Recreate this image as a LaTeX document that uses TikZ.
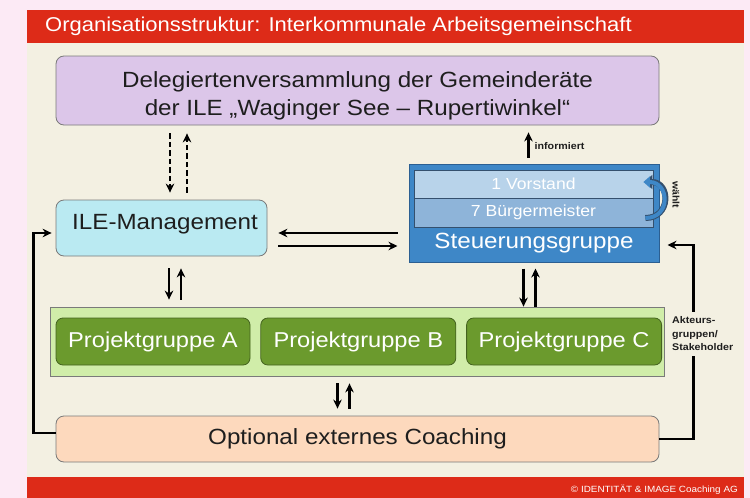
\documentclass[tikz,border=0pt]{standalone}
\usepackage{fontspec}
\setmainfont{Liberation Sans}[FakeStretch=1.1]
\usepackage{tikz}
\usetikzlibrary{arrows.meta,positioning}
\definecolor{seite}{HTML}{FCEAF5}
\definecolor{panel}{HTML}{F3F0E2}
\definecolor{titelrot}{HTML}{DD2B18}
\definecolor{rand}{HTML}{7A7A7A}
\definecolor{violett}{HTML}{DCC6E9}
\definecolor{cyan}{HTML}{BAEAF2}
\definecolor{steublau}{HTML}{3E87C7}
\definecolor{steurand}{HTML}{2B5F92}
\definecolor{vorstandblau}{HTML}{B8D3EA}
\definecolor{bmblau}{HTML}{8EB4D9}
\definecolor{innenrand}{HTML}{34506E}
\definecolor{hellgruen}{HTML}{D0EDA9}
\definecolor{projgruen}{HTML}{6B9A2D}
\definecolor{projdunkel}{HTML}{44631F}
\definecolor{pfirsich}{HTML}{FDD9BD}
\definecolor{schrift}{HTML}{1E1E1E}
\tikzstyle{arrow} = [line width=2.4pt,-{Stealth[length=9pt,width=8.5pt]}]

\begin{document}
\begin{tikzpicture}[x=1pt,y=-1pt]
                \tikzstyle{box}=[draw=rand,line width=0.8pt,rounded corners=8pt,inner sep=0pt]
                \tikzstyle{pgruppe}=[box,fill=projgruen,draw=projdunkel,text=white,rounded corners=7pt,minimum width=195pt,minimum height=47pt,font=\fontsize{21.5}{26}\selectfont]
                \tikzstyle{sgruppe}=[draw=innenrand,line width=0.8pt,text=white,minimum width=239pt,inner sep=0pt,font=\fontsize{16}{19}\selectfont]
                \tikzstyle{klein}=[text=schrift,font=\fontsize{9.7}{13.5}\selectfont\bfseries]
                \tikzstyle{dasharrow}=[arrow,dash pattern=on 5.5pt off 3pt]

                \useasboundingbox (0,0) rectangle (750,498);
                \fill[seite] (0,0) rectangle (750,498);
                \fill[panel] (27,10) rectangle (744,498);
                \fill[titelrot] (27,10) rectangle (744,43);
                \fill[titelrot] (27,477) rectangle (744,498);

                \node [anchor=west,text=white,inner sep=0pt,font=\fontsize{20}{24}\selectfont] (titel) at (45,26.5)
                {Organisationsstruktur: Interkommunale Arbeitsgemeinschaft};
                \node [anchor=east,text=white,inner sep=0pt,font=\fontsize{9}{11}\selectfont] (copy) at (738,490)
                {© IDENTITÄT \& IMAGE Coaching AG};

                \node [box,fill=violett,minimum width=603pt,minimum height=69pt] (del) at (357.5,90.5) {};
                \node [align=center,text=schrift,font=\fontsize{22}{28}\selectfont] (deltext) at ([yshift=-5pt]del.center)
                {Delegiertenversammlung der Gemeinderäte\\der ILE „Waginger See – Rupertiwinkel“};

                \node [box,fill=cyan,minimum width=211pt,minimum height=56pt] (ile) at (161.5,228) {};
                \node [anchor=base,text=schrift,font=\fontsize{22}{26}\selectfont] (iletext) at ([xshift=3.5pt,yshift=-1pt]ile.center)
                {ILE-Management};

                \node [draw=steurand,line width=1pt,fill=steublau,minimum width=250pt,minimum height=98pt] (steu) at (534,213) {};
                \node [sgruppe,fill=vorstandblau,minimum height=28pt] (vorstand) at (533.5,184) {1 Vorstand};
                \node [sgruppe,fill=bmblau,minimum height=29pt] (bm) at (533.5,212.5) {7 Bürgermeister};
                \node [text=white,font=\fontsize{22}{26}\selectfont] (steutext) at ([yshift=-30pt]steu.center)
                {Steuerungsgruppe};

                \node [draw=rand,line width=0.8pt,fill=hellgruen,minimum width=614pt,minimum height=69pt] (projekt) at (357,341.5) {};
                \node [pgruppe,minimum width=194pt] (pa) at (153,341.5) {Projektgruppe A};
                \node [pgruppe,right=10pt of pa] (pb) {Projektgruppe B};
                \node [pgruppe,right=10pt of pb] (pc) {Projektgruppe C};

                \node [box,fill=pfirsich,minimum width=603pt,minimum height=46pt,text=schrift,font=\fontsize{22}{26}\selectfont] (coach) at (357.5,439)
                {Optional externes Coaching};

                \draw [dasharrow,shorten <=8pt,shorten >=7pt] ([xshift=8.5pt]ile.north |- del.south) -- ([xshift=8.5pt]ile.north);
                \draw [dasharrow,shorten <=7pt,shorten >=8pt] ([xshift=25.5pt]ile.north) -- ([xshift=25.5pt]ile.north |- del.south);

                \draw [arrow,shorten <=11pt,shorten >=11pt] ([yshift=-5pt]ile.east -| steu.west) -- ([yshift=-5pt]ile.east);
                \draw [arrow,shorten <=11pt,shorten >=11pt] ([yshift=-18pt]ile.east) -- ([yshift=-18pt]ile.east -| steu.west);

                \draw [arrow,shorten <=6pt,shorten >=7pt] ([xshift=-5.5pt]steu.north) -- ([xshift=-5.5pt]steu.north |- del.south)
                node [klein,pos=0.45,anchor=west,xshift=4pt,inner sep=1pt] {informiert};

                \draw [line width=6pt,innenrand,-{Triangle[length=8pt,width=14pt]}] ([xshift=-8pt,yshift=-5.5pt]bm.east)
                to [out=0,in=0,distance=26pt] ([xshift=-9pt,yshift=2pt]vorstand.east);
                \draw [line width=4pt,steublau,-{Triangle[length=6.5pt,width=11pt]}] ([xshift=-8pt,yshift=-5.5pt]bm.east)
                to [out=0,in=0,distance=26pt] ([xshift=-10pt,yshift=2pt]vorstand.east);
                \node [klein,rotate=-90,font=\fontsize{9.5}{11}\selectfont\bfseries] (waehlt) at (676,195) {wählt};

                \draw [arrow,shorten <=12pt,shorten >=7pt] ([xshift=7.5pt]ile.south) -- ([xshift=7.5pt]ile.south |- projekt.north);
                \draw [arrow,shorten <=7pt,shorten >=12pt] ([xshift=19.5pt]ile.south |- projekt.north) -- ([xshift=19.5pt]ile.south);

                \draw [arrow,shorten <=6pt] ([xshift=-10.5pt]steu.south) -- ([xshift=-10.5pt]steu.south |- projekt.north);
                \draw [arrow,shorten >=6pt] ([xshift=1.5pt]steu.south |- projekt.north) -- ([xshift=1.5pt]steu.south);

                \draw [arrow,shorten <=7pt,shorten >=7pt] ([xshift=-19.5pt]projekt.south) -- ([xshift=-19.5pt]projekt.south |- coach.north);
                \draw [arrow,shorten <=7pt,shorten >=7pt] ([xshift=-7.5pt]projekt.south |- coach.north) -- ([xshift=-7.5pt]projekt.south);

                \draw [arrow,shorten >=4pt] ([yshift=6pt]coach.west) -- ++(-22,0) |- ([yshift=-5pt]ile.west);
                \draw [arrow,shorten >=8pt] (coach.east) -- ++(34,0) |- ([yshift=-32pt]steu.east);
                \node [klein,anchor=west,align=left,fill=panel,inner xsep=0pt,inner ysep=5pt] (akteure) at (672,334)
                {Akteurs-\\gruppen/\\Stakeholder};
\end{tikzpicture}
\end{document}
